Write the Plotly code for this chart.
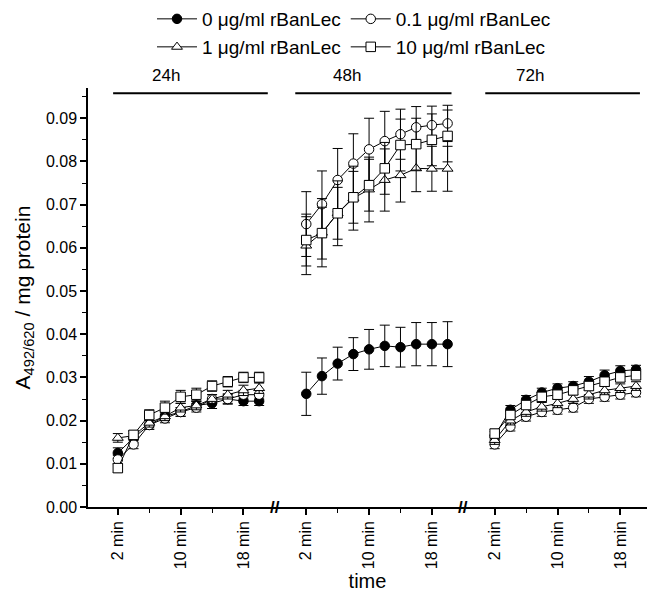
import plotly.graph_objects as go

# ---------------- data ----------------
minutes = [2, 4, 6, 8, 10, 12, 14, 16, 18, 20]
panels = ["24h", "48h", "72h"]
panel_offset = [0, 24, 48]          # position offset of each panel on the shared time axis
series_names = ["0 \u03bcg/ml rBanLec", "0.1 \u03bcg/ml rBanLec",
                "1 \u03bcg/ml rBanLec", "10 \u03bcg/ml rBanLec"]

# 0 ug/ml
v0_24 = [0.0125, 0.016, 0.019, 0.021, 0.022, 0.0235, 0.024, 0.025, 0.0245, 0.0245]
v0_48 = [0.0262, 0.0303, 0.0332, 0.0354, 0.0365, 0.0373, 0.0370, 0.0377, 0.0377, 0.0377]
v0_72 = [0.0165, 0.0225, 0.0248, 0.0265, 0.0275, 0.028, 0.029, 0.0305, 0.0315, 0.0318]
e0_24 = [0.0012, 0.001, 0.001, 0.001, 0.001, 0.001, 0.0012, 0.0012, 0.001, 0.001]
e0_48 = [0.005, 0.0042, 0.0038, 0.0038, 0.0046, 0.0048, 0.0046, 0.005, 0.005, 0.0052]
e0_72 = [0.001, 0.001, 0.001, 0.001, 0.001, 0.001, 0.0012, 0.0012, 0.0012, 0.001]

# 0.1 ug/ml
v01_24 = [0.011, 0.0145, 0.019, 0.0205, 0.022, 0.023, 0.025, 0.025, 0.026, 0.026]
v01_48 = [0.0655, 0.0701, 0.0757, 0.0795, 0.0828, 0.0847, 0.0863, 0.0879, 0.0884, 0.0888]
v01_72 = [0.0145, 0.0186, 0.0209, 0.022, 0.0225, 0.023, 0.025, 0.0255, 0.026, 0.0265]
e01_24 = [0.001, 0.001, 0.001, 0.001, 0.001, 0.001, 0.001, 0.001, 0.001, 0.001]
e01_48 = [0.0075, 0.0077, 0.0073, 0.0069, 0.0072, 0.0069, 0.0058, 0.0048, 0.0044, 0.0042]
e01_72 = [0.001, 0.001, 0.001, 0.001, 0.001, 0.001, 0.001, 0.001, 0.001, 0.001]

# 1 ug/ml
v1_24 = [0.016, 0.0165, 0.0195, 0.021, 0.023, 0.0235, 0.025, 0.026, 0.027, 0.0275]
v1_48 = [0.0605, 0.0635, 0.068, 0.0715, 0.0735, 0.0757, 0.0768, 0.0784, 0.0783, 0.0783]
v1_72 = [0.0155, 0.020, 0.022, 0.0232, 0.024, 0.025, 0.026, 0.027, 0.0275, 0.028]
e1_24 = [0.001, 0.001, 0.001, 0.001, 0.001, 0.001, 0.001, 0.001, 0.0012, 0.0012]
e1_48 = [0.0067, 0.0079, 0.0075, 0.0074, 0.0075, 0.0072, 0.0062, 0.0054, 0.0052, 0.0052]
e1_72 = [0.001, 0.001, 0.001, 0.001, 0.001, 0.001, 0.001, 0.001, 0.001, 0.001]

# 10 ug/ml
v10_24 = [0.009, 0.0167, 0.0213, 0.023, 0.0255, 0.026, 0.028, 0.029, 0.030, 0.030]
v10_48 = [0.0618, 0.0634, 0.068, 0.0717, 0.0745, 0.0784, 0.0838, 0.084, 0.085, 0.0859]
v10_72 = [0.017, 0.0213, 0.0236, 0.0255, 0.026, 0.027, 0.028, 0.029, 0.030, 0.0305]
e10_24 = [0.001, 0.001, 0.0012, 0.0015, 0.0015, 0.0015, 0.0012, 0.0012, 0.0012, 0.0012]
e10_48 = [0.006, 0.006, 0.006, 0.006, 0.006, 0.006, 0.006, 0.006, 0.006, 0.006]
e10_72 = [0.001, 0.001, 0.001, 0.001, 0.001, 0.001, 0.001, 0.001, 0.001, 0.001]

tick_minutes = [2, 10, 18]
tick_text = ["2 min", "10 min", "18 min"]
minor_minutes = [6, 14]
break_positions = [22, 46]

values = [[v0_24, v0_48, v0_72], [v01_24, v01_48, v01_72],
          [v1_24, v1_48, v1_72], [v10_24, v10_48, v10_72]]
errors = [[e0_24, e0_48, e0_72], [e01_24, e01_48, e01_72],
          [e1_24, e1_48, e1_72], [e10_24, e10_48, e10_72]]

symbols = ["circle", "circle", "triangle-up", "square"]
fills = ["black", "white", "white", "white"]
legend_of = ["legend", "legend", "legend2", "legend2"]

FONT = "Liberation Sans, Arial, sans-serif"

fig = go.Figure()
for s in range(4):
    for p in range(3):
        xs = [m + panel_offset[p] for m in minutes]
        fig.add_trace(go.Scatter(
            x=xs, y=values[s][p], mode="lines+markers",
            name=series_names[s], legendgroup=series_names[s],
            legend=legend_of[s],
            showlegend=(p == 0),
            line=dict(color="black", width=1),
            marker=dict(symbol=symbols[s], size=9.5,
                        color=fills[s], line=dict(color="black", width=1)),
            error_y=dict(type="data", array=errors[s][p], color="black",
                         thickness=1, width=5),
        ))

tickvals, ticktext, minorvals = [], [], []
for off in panel_offset:
    tickvals += [m + off for m in tick_minutes]
    ticktext += tick_text
    minorvals += [m + off for m in minor_minutes]

fig.update_xaxes(
    range=[-1.8, 69.4], showline=True, linecolor="black", linewidth=1.5,
    tickmode="array", tickvals=tickvals, ticktext=ticktext, tickangle=-90,
    ticks="outside", ticklen=6, tickwidth=1.5, tickcolor="black",
    minor=dict(tickmode="array", tickvals=minorvals, ticks="outside",
               ticklen=4, tickwidth=1, tickcolor="black"),
    showgrid=False, zeroline=False,
    tickfont=dict(family=FONT, size=16, color="black"),
    title=dict(text="time", font=dict(family=FONT, size=20, color="black"), standoff=6),
)
fig.update_yaxes(
    range=[0, 0.097], showline=True, linecolor="black", linewidth=1.5,
    tickmode="linear", tick0=0, dtick=0.01, tickformat=".2f",
    ticks="outside", ticklen=6, tickwidth=1.5, tickcolor="black",
    minor=dict(dtick=0.005, ticks="outside", ticklen=4, tickwidth=1, tickcolor="black"),
    showgrid=False, zeroline=False,
    tickfont=dict(family=FONT, size=16, color="black"),
    title=dict(text="A<sub>492/620</sub> / mg protein",
               font=dict(family=FONT, size=21, color="black"), standoff=10),
)

# panel headers
header_lines = [(1.4, 21.1), (24.6, 44.5), (48.8, 68.5)]
header_label_x = [8.15, 31.2, 54.5]
for (x0, x1), lx, lab in zip(header_lines, header_label_x, panels):
    fig.add_shape(type="line", xref="x", yref="y", x0=x0, x1=x1, y0=0.0958, y1=0.0958,
                  line=dict(color="black", width=2))
    fig.add_annotation(x=lx, y=1.031, xref="x", yref="paper", text=lab, showarrow=False,
                       font=dict(family=FONT, size=17, color="black"), yanchor="middle")

# axis break marks
for bx in break_positions:
    fig.add_annotation(x=bx, y=0, xref="x", yref="y", text="<b>//</b>", showarrow=False,
                       font=dict(family=FONT, size=17, color="black"), yanchor="middle")

legend_common = dict(orientation="h", xref="container", yref="container",
                     xanchor="left", yanchor="middle",
                     font=dict(family=FONT, size=19, color="black"),
                     itemwidth=40, bgcolor="rgba(0,0,0,0)", borderwidth=0)

fig.update_layout(
    width=648, height=596,
    margin=dict(l=88, r=1, t=88, b=89),
    paper_bgcolor="white", plot_bgcolor="white",
    showlegend=True,
    legend=dict(x=152 / 648, y=1 - 19 / 596, **legend_common),
    legend2=dict(x=152 / 648, y=1 - 47 / 596, **legend_common),
)

fig.write_html("out.html", config={"displayModeBar": False},
               post_script="document.body.style.margin='0';")
